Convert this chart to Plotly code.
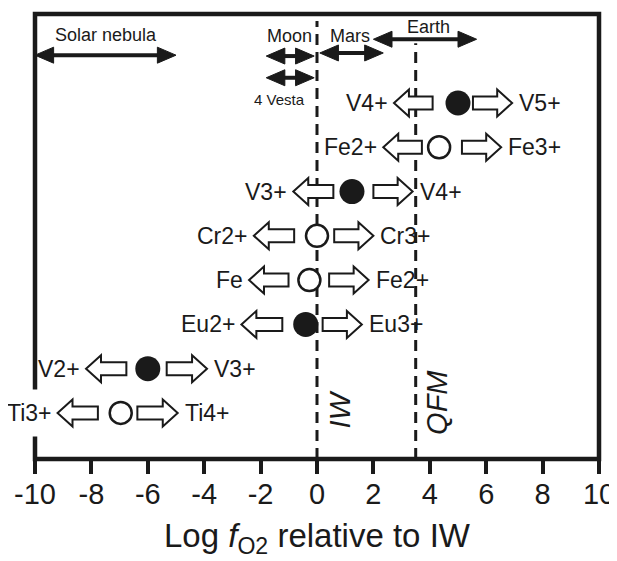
import plotly.graph_objects as go

# ---------------- data ----------------
# rows listed top -> bottom; row index (y) counts up from the bottom row
row_index = [7, 6, 5, 4, 3, 2, 1, 0]
left_labels = ["V4+", "Fe2+", "V3+", "Cr2+", "Fe", "Eu2+", "V2+", "Ti3+"]
right_labels = ["V5+", "Fe3+", "V4+", "Cr3+", "Fe2+", "Eu3+", "V3+", "Ti4+"]
centers = [5.0, 4.33, 1.24, 0.0, -0.27, -0.40, -6.0, -6.96]
filled = [True, False, True, False, False, True, True, False]
left_tip = [2.73, 2.35, -0.84, -2.24, -2.41, -2.68, -8.19, -9.20]
left_tail = [4.10, 3.72, 0.58, -0.81, -1.01, -1.23, -6.76, -7.77]
right_tail = [5.53, 5.14, 2.00, 0.61, 0.43, 0.20, -5.33, -6.37]
right_tip = [6.92, 6.53, 3.39, 2.00, 1.83, 1.59, -3.90, -4.94]

# planetary / nebular fO2 ranges
body_names = ["Solar nebula", "Moon", "4 Vesta", "Mars", "Earth"]
body_lo = [-10.0, -1.8, -1.8, 0.1, 2.0]
body_hi = [-5.0, -0.1, -0.1, 2.35, 5.66]

# buffers
buffer_names = ["IW", "QFM"]
buffer_values = [0.0, 3.5]

x_ticks = [-10, -8, -6, -4, -2, 0, 2, 4, 6, 8, 10]

# ---------------- layout constants ----------------
FONT = "Liberation Sans, Arial, sans-serif"
INK = "#1a1a1a"
Y_RANGE = [-1.04, 9.01]
body_arrow_y = [8.08, 8.06, 7.57, 8.13, 8.44]
body_label_x = [-7.49, -0.99, -1.34, 1.17, 3.97]
body_label_y = [8.53, 8.51, 7.07, 8.51, 8.72]
body_label_size = [18, 18, 15, 18, 18]
buffer_top = [8.85, 8.35]
buffer_label_x = [0.8, 4.26]
buffer_label_y = [0.07, 0.23]

fig = go.Figure()
shapes = []
annotations = []

# dashed buffer lines
for bv, top in zip(buffer_values, buffer_top):
    shapes.append(dict(type="line", xref="x", yref="y", x0=bv, x1=bv,
                       y0=Y_RANGE[0], y1=top, layer="below",
                       line=dict(color=INK, width=3, dash="11px,7px")))

# block arrows
HEAD = 0.53


def block_arrow(x_from, x_to, yrow):
    d = 1 if x_to > x_from else -1
    xb = x_to - d * HEAD
    path = (f"M{x_from},-6.5 L{xb},-6.5 L{xb},-13.5 L{x_to},0 "
            f"L{xb},13.5 L{xb},6.5 L{x_from},6.5 Z")
    return dict(type="path", xref="x", yref="y", xsizemode="scaled",
                ysizemode="pixel", yanchor=yrow, path=path, layer="below",
                line=dict(color=INK, width=2), fillcolor="white")


for i, yr in enumerate(row_index):
    shapes.append(block_arrow(left_tail[i], left_tip[i], yr))
    shapes.append(block_arrow(right_tail[i], right_tip[i], yr))
    ann = dict(x=left_tip[i], y=yr, xref="x", yref="y",
               text=left_labels[i], showarrow=False,
               xanchor="right", yanchor="middle", xshift=-4,
               font=dict(family=FONT, size=23, color=INK))
    if left_labels[i] == "Ti3+":
        ann.update(bgcolor="white", height=44)
    annotations.append(ann)
    annotations.append(dict(x=right_tip[i], y=yr, xref="x", yref="y",
                            text=right_labels[i], showarrow=False,
                            xanchor="left", yanchor="middle", xshift=5,
                            font=dict(family=FONT, size=23, color=INK)))

# circles
fx = [c for c, f in zip(centers, filled) if f]
fy = [r for r, f in zip(row_index, filled) if f]
ox = [c for c, f in zip(centers, filled) if not f]
oy = [r for r, f in zip(row_index, filled) if not f]
fig.add_trace(go.Scatter(x=fx, y=fy, mode="markers", hoverinfo="skip",
                         marker=dict(size=25, color=INK, line=dict(width=0))))
fig.add_trace(go.Scatter(x=ox, y=oy, mode="markers", hoverinfo="skip",
                         marker=dict(size=22, color="white",
                                     line=dict(width=2.5, color=INK))))

# range double arrows
AH = 0.66
for lo, hi, ya in zip(body_lo, body_hi, body_arrow_y):
    shapes.append(dict(type="line", xref="x", yref="y", x0=lo + AH * 0.8,
                       x1=hi - AH * 0.8, y0=ya, y1=ya,
                       line=dict(color=INK, width=4)))
    shapes.append(dict(type="path", xref="x", yref="y", xsizemode="scaled",
                       ysizemode="pixel", yanchor=ya,
                       path=f"M{lo},0 L{lo + AH},8 L{lo + AH},-8 Z",
                       fillcolor=INK, line=dict(color=INK, width=1)))
    shapes.append(dict(type="path", xref="x", yref="y", xsizemode="scaled",
                       ysizemode="pixel", yanchor=ya,
                       path=f"M{hi},0 L{hi - AH},8 L{hi - AH},-8 Z",
                       fillcolor=INK, line=dict(color=INK, width=1)))

for name, lx, ly, fs in zip(body_names, body_label_x, body_label_y, body_label_size):
    annotations.append(dict(x=lx, y=ly, xref="x", yref="y", text=name,
                            showarrow=False, xanchor="center", yanchor="middle",
                            font=dict(family=FONT, size=fs, color=INK)))

# buffer labels
for name, lx, ly in zip(buffer_names, buffer_label_x, buffer_label_y):
    annotations.append(dict(x=lx, y=ly, xref="x", yref="y",
                            text=f"<i>{name}</i>", showarrow=False,
                            textangle=-90, xanchor="center", yanchor="middle",
                            font=dict(family=FONT, size=29, color=INK)))

# frame
shapes.append(dict(type="rect", xref="paper", yref="paper", x0=0, x1=1,
                   y0=0, y1=1, line=dict(color=INK, width=4.5), layer="above"))

# axis title
annotations.append(dict(x=0, y=-0.125, xref="x", yref="paper",
                        text="Log <i>f</i><sub>O2</sub> relative to IW",
                        showarrow=False, xanchor="center", yanchor="top",
                        font=dict(family=FONT, size=33, color=INK)))

# the page body adds an 8px offset, so the figure is 8px smaller
fig.update_layout(
    width=609, height=553,
    margin=dict(l=27, r=18, t=6, b=102, autoexpand=False),
    paper_bgcolor="white", plot_bgcolor="white",
    showlegend=False,
    shapes=shapes, annotations=annotations,
    xaxis=dict(range=[-10, 10], tickvals=x_ticks,
               ticktext=[str(t) for t in x_ticks],
               ticks="outside", ticklen=14, tickwidth=3.5, tickcolor=INK,
               showgrid=False, zeroline=False, showline=False,
               automargin=False, ticklabelstandoff=-5,
               tickfont=dict(family=FONT, size=29, color=INK),
               fixedrange=True),
    yaxis=dict(range=Y_RANGE, visible=False, fixedrange=True,
               automargin=False),
)

fig.write_html("out.html")
